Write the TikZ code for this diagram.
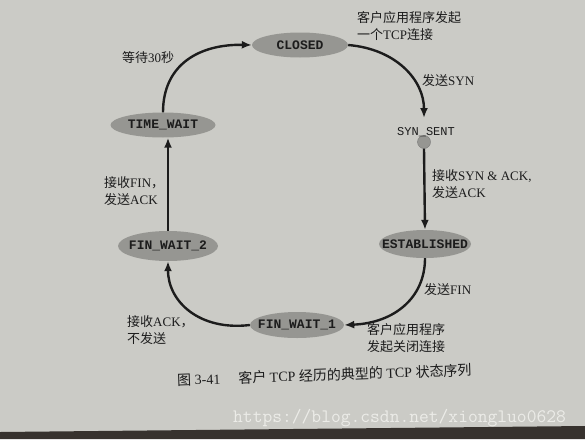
\documentclass[tikz,border=0pt]{standalone}
\usepackage{fontspec}
\setmainfont{Liberation Serif}
\newfontfamily\cjk{Noto Sans CJK SC}
\newfontfamily\statefont{Liberation Mono}
\usetikzlibrary{shapes.geometric,arrows.meta}
\definecolor{paper}{RGB}{203,203,198}
\definecolor{statefill}{RGB}{150,150,146}
\definecolor{ink}{RGB}{28,28,28}
\definecolor{mark}{RGB}{236,236,232}
\definecolor{edge}{RGB}{55,50,46}
\begin{document}
\begin{tikzpicture}[x=1pt,y=-1pt,
  state/.style={ellipse, fill=statefill, inner sep=0pt, text=ink,
    font=\fontsize{13}{13}\selectfont\statefont\bfseries},
  flow/.style={line width=2.4pt, draw=ink, -{Latex[length=10pt,width=8pt]}},
  lbl/.style={font=\fontsize{13}{17}\selectfont, align=left, anchor=west,
    inner sep=0pt, text=ink}]
\fill[paper] (0,0) rectangle (585,439);
\useasboundingbox (0,0) rectangle (585,439);
\fill[edge] (0,432) -- (585,426) -- (585,439) -- (0,439) -- cycle;

% states
\node[state, minimum width=96pt, minimum height=25pt] (closed) at (300,45) {\makebox[0pt]{CLOSED}};
\node[state, minimum width=105pt, minimum height=25pt] (timewait) at (163,125) {\makebox[0pt]{TIME\_WAIT}};
\node[state, minimum width=100pt, minimum height=30pt] (finwait2) at (168,246) {\makebox[0pt]{FIN\_WAIT\_2}};
\node[state, minimum width=92pt, minimum height=28pt] (established) at (425,244) {\makebox[0pt]{ESTABLISHED}};
\node[state, minimum width=94pt, minimum height=26pt] (finwait1) at (297,325) {\makebox[0pt]{FIN\_WAIT\_1}};
\node[circle, fill=statefill, draw=ink!60, line width=0.4pt, minimum size=13pt, inner sep=0pt] (synsent) at (424,142) {};
\node[font=\fontsize{12}{12}\selectfont\statefont, text=ink, inner sep=0pt] (synsentlbl) at (426,132) {SYN\_SENT};
\coordinate (synin) at (424,118);

% connectors
\draw[flow] (closed.east) .. controls (396,49) and (424,80) .. (synin);
\draw[flow] (synsent.south) -- (established.north);
\draw[flow] (established.south) .. controls (425,298) and (394,323) .. (finwait1.east);
\draw[flow] (finwait1.west) .. controls (200,331) and (168,302) .. (finwait2.south);
\draw[flow] (finwait2.north) -- (finwait2.north |- timewait.south);
\draw[flow] (timewait.north) .. controls (163,64) and (200,44) .. (closed.west);

% labels
\node[lbl] (l1) at (357,26) {{\cjk 客户应用程序发起}\\{\cjk 一个}TCP{\cjk 连接}};
\node[lbl] (l2) at (122,58) {{\cjk 等待}30{\cjk 秒}};
\node[lbl] (l3) at (422,81) {{\cjk 发送}SYN};
\node[lbl] (l4) at (432,184) {{\cjk 接收}SYN \& ACK,\\{\cjk 发送}ACK};
\node[lbl] (l5) at (104,191) {{\cjk 接收}FIN{\cjk ，}\\{\cjk 发送}ACK};
\node[lbl] (l6) at (424,290) {{\cjk 发送}FIN};
\node[lbl] (l7) at (127,330) {{\cjk 接收}ACK{\cjk ，}\\{\cjk 不发送}};
\node[lbl] (l8) at (367,338) {{\cjk 客户应用程序}\\{\cjk 发起关闭连接}};

% caption
\node[font=\fontsize{14}{14}\selectfont, text=ink, anchor=west, inner sep=0pt, rotate=2] (cap) at (177,380)
  {{\cjk 图} 3-41\hspace{18pt}{\cjk 客户} TCP {\cjk 经历的典型的} TCP {\cjk 状态序列}};
% watermark
\node[font=\fontsize{19}{19}\selectfont\ttfamily, text=mark, anchor=west, inner sep=0pt] (wm) at (233,418)
  {https://blog.csdn.net/xiongluo0628};
\end{tikzpicture}
\end{document}
